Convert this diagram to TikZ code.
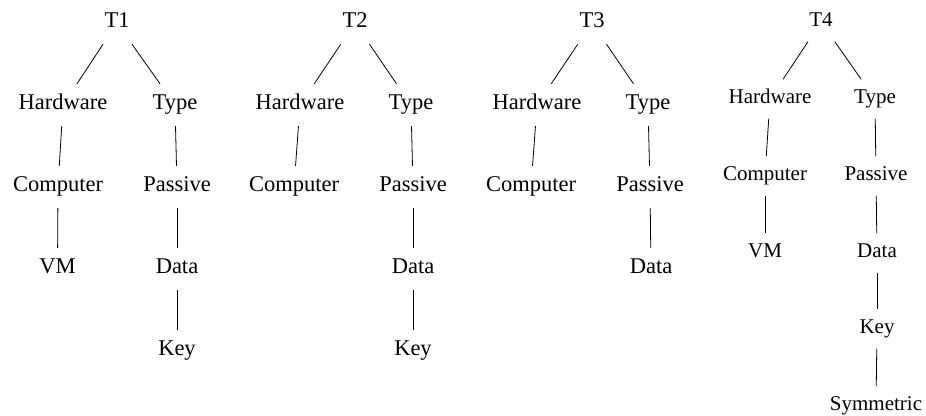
\documentclass[tikz,border=0pt]{standalone}
\usepackage{fontspec}
\setmainfont{Liberation Serif}
\begin{document}
\begin{tikzpicture}[x=1pt,y=-1pt,
  tnode/.style={inner sep=0pt, minimum width=40pt, minimum height=42pt,
    font=\fontsize{22.5}{27}\selectfont, text height=0.9em, text depth=0.08em},
  snode/.style={tnode, minimum height=39pt, font=\fontsize{21}{25}\selectfont},
  link/.style={line width=0.8pt}]
\useasboundingbox (0,0) rectangle (926,415);

% first tree
\node[tnode] (a0) at (117,23) {T1};
\node[tnode] (a1) at (63,105) {Hardware};
\node[tnode] (a2) at (175,105) {Type};
\node[tnode] (a3) at (58,187) {Computer};
\node[tnode] (a4) at (177,187) {Passive};
\node[tnode] (a5) at (57.5,269) {VM};
\node[tnode] (a6) at (177,269) {Data};
\node[tnode] (a7) at (177,351) {Key};
\draw[link] (a0) -- (a1);
\draw[link] (a0) -- (a2);
\draw[link] (a1) -- (a3);
\draw[link] (a2) -- (a4);
\draw[link] (a3) -- (a5);
\draw[link] (a4) -- (a6);
\draw[link] (a6) -- (a7);

% second tree
\node[tnode] (b0) at (355,23) {T2};
\node[tnode] (b1) at (300,105) {Hardware};
\node[tnode] (b2) at (411,105) {Type};
\node[tnode] (b3) at (294,187) {Computer};
\node[tnode] (b4) at (413,187) {Passive};
\node[tnode] (b6) at (413,269) {Data};
\node[tnode] (b7) at (413,351) {Key};
\draw[link] (b0) -- (b1);
\draw[link] (b0) -- (b2);
\draw[link] (b1) -- (b3);
\draw[link] (b2) -- (b4);
\draw[link] (b4) -- (b6);
\draw[link] (b6) -- (b7);

% third tree
\node[tnode] (c0) at (592,23) {T3};
\node[tnode] (c1) at (537,105) {Hardware};
\node[tnode] (c2) at (648,105) {Type};
\node[tnode] (c3) at (531,187) {Computer};
\node[tnode] (c4) at (650,187) {Passive};
\node[tnode] (c6) at (651,269) {Data};
\draw[link] (c0) -- (c1);
\draw[link] (c0) -- (c2);
\draw[link] (c1) -- (c3);
\draw[link] (c2) -- (c4);
\draw[link] (c4) -- (c6);

% fourth tree
\node[snode] (d0) at (821,22) {T4};
\node[snode] (d1) at (770,99) {Hardware};
\node[snode] (d2) at (875,99) {Type};
\node[snode] (d3) at (765,176) {Computer};
\node[snode] (d4) at (876,176) {Passive};
\node[snode] (d5) at (765,253) {VM};
\node[snode] (d6) at (877,253) {Data};
\node[snode] (d7) at (877,329) {Key};
\node[snode] (d8) at (876,406) {Symmetric};
\draw[link] (d0) -- (d1);
\draw[link] (d0) -- (d2);
\draw[link] (d1) -- (d3);
\draw[link] (d2) -- (d4);
\draw[link] (d3) -- (d5);
\draw[link] (d4) -- (d6);
\draw[link] (d6) -- (d7);
\draw[link] (d7) -- (d8);
\end{tikzpicture}
\end{document}
